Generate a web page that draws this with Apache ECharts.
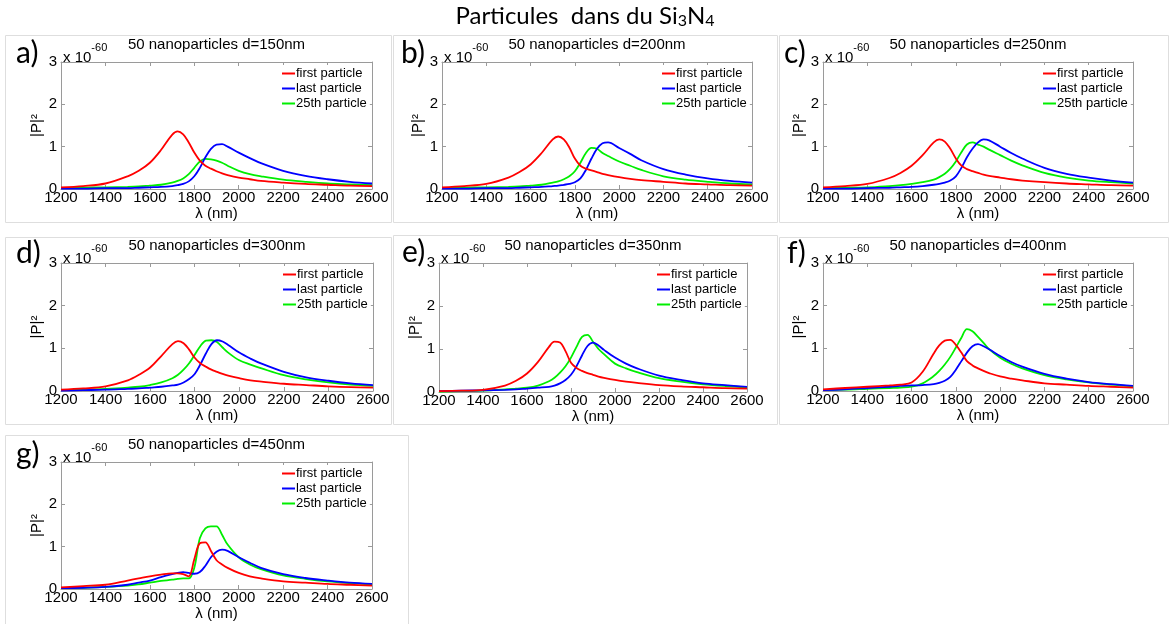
<!DOCTYPE html>
<html>
<head>
<meta charset="utf-8">
<script src="https://cdn.jsdelivr.net/npm/echarts@6/dist/echarts.min.js"></script>
<style>
html,body{margin:0;padding:0;background:#fff;}
#main{width:1171px;height:624px;}
</style>
</head>
<body>
<div id="main"></div>
<script>
// ---------------- DATA ----------------
const WL = [1200,1300,1400,1500,1550,1600,1650,1700,1725,1750,1775,1800,1825,1850,1875,1900,1925,1950,2000,2050,2100,2200,2300,2400,2500,2600];
const X_TICKS = [1200,1400,1600,1800,2000,2200,2400,2600];
const Y_TICKS = [0,1,2,3];
const SERIES_NAMES = ['first particle','last particle','25th particle'];
const DIAMETERS = [150,200,250,300,350,400,450];
const LETTERS = ['a)','b)','c)','d)','e)','f)','g)'];

// panel a (d=150nm)
const firstA = [0.04,0.07,0.13,0.30,0.43,0.62,0.92,1.28,1.36,1.29,1.10,0.86,0.67,0.55,0.48,0.42,0.37,0.33,0.27,0.23,0.19,0.15,0.12,0.10,0.08,0.07];
const lastA  = [0.01,0.01,0.02,0.02,0.03,0.04,0.05,0.07,0.09,0.12,0.18,0.30,0.50,0.75,0.95,1.05,1.06,1.00,0.86,0.73,0.61,0.43,0.31,0.23,0.17,0.13];
const p25A   = [0.02,0.03,0.04,0.05,0.06,0.08,0.10,0.15,0.19,0.25,0.35,0.50,0.65,0.71,0.70,0.67,0.62,0.55,0.43,0.35,0.30,0.22,0.17,0.13,0.11,0.09];
// panel b (d=200nm)
const firstB = [0.04,0.07,0.12,0.27,0.40,0.58,0.85,1.17,1.24,1.17,0.98,0.72,0.55,0.48,0.44,0.40,0.36,0.33,0.28,0.24,0.21,0.17,0.13,0.11,0.09,0.08];
const lastB  = [0.01,0.01,0.02,0.02,0.03,0.04,0.05,0.07,0.08,0.10,0.12,0.16,0.25,0.45,0.72,0.95,1.08,1.10,0.97,0.83,0.68,0.47,0.34,0.25,0.19,0.15];
const p25B   = [0.02,0.03,0.04,0.05,0.06,0.08,0.10,0.15,0.18,0.23,0.30,0.42,0.62,0.85,0.97,0.95,0.85,0.78,0.65,0.55,0.45,0.30,0.22,0.17,0.13,0.11];
// panel c (d=250nm)
const firstC = [0.04,0.07,0.12,0.26,0.38,0.55,0.80,1.10,1.17,1.12,0.95,0.72,0.55,0.47,0.42,0.38,0.34,0.31,0.27,0.23,0.20,0.16,0.13,0.11,0.09,0.08];
const lastC  = [0.01,0.01,0.02,0.03,0.04,0.05,0.07,0.10,0.12,0.15,0.20,0.30,0.50,0.75,0.95,1.10,1.17,1.15,1.00,0.85,0.72,0.50,0.36,0.27,0.20,0.15];
const p25C   = [0.02,0.03,0.04,0.07,0.09,0.12,0.16,0.22,0.28,0.36,0.48,0.65,0.87,1.05,1.10,1.05,1.00,0.93,0.80,0.67,0.56,0.38,0.27,0.20,0.16,0.13];
// panel d (d=300nm)
const firstD = [0.03,0.06,0.11,0.25,0.38,0.55,0.82,1.10,1.17,1.12,0.97,0.78,0.65,0.57,0.50,0.45,0.40,0.36,0.30,0.25,0.22,0.17,0.14,0.11,0.09,0.08];
const lastD  = [0.01,0.02,0.03,0.05,0.06,0.08,0.10,0.13,0.15,0.20,0.28,0.40,0.62,0.88,1.10,1.19,1.16,1.08,0.90,0.76,0.64,0.45,0.32,0.24,0.18,0.14];
const p25D   = [0.02,0.03,0.05,0.08,0.10,0.14,0.20,0.30,0.38,0.50,0.65,0.85,1.05,1.18,1.19,1.15,1.02,0.90,0.72,0.62,0.53,0.37,0.27,0.20,0.15,0.12];
// panel e (d=350nm)
const firstE = [0.02,0.03,0.05,0.15,0.26,0.43,0.70,1.05,1.17,1.15,0.95,0.68,0.56,0.49,0.44,0.40,0.36,0.33,0.28,0.24,0.21,0.16,0.13,0.11,0.09,0.08];
const lastE  = [0.02,0.03,0.04,0.05,0.06,0.08,0.10,0.12,0.15,0.20,0.28,0.40,0.60,0.85,1.07,1.15,1.08,0.98,0.80,0.66,0.55,0.38,0.28,0.20,0.16,0.12];
const p25E   = [0.01,0.02,0.03,0.06,0.08,0.10,0.15,0.25,0.33,0.45,0.60,0.80,1.05,1.28,1.33,1.17,1.00,0.88,0.66,0.55,0.46,0.32,0.24,0.18,0.14,0.11];
// panel f (d=400nm)
const firstF = [0.04,0.07,0.10,0.13,0.15,0.20,0.45,0.88,1.07,1.18,1.20,1.08,0.90,0.70,0.60,0.53,0.47,0.42,0.34,0.29,0.25,0.18,0.15,0.12,0.10,0.08];
const lastF  = [0.02,0.04,0.07,0.10,0.12,0.13,0.14,0.16,0.19,0.24,0.33,0.50,0.70,0.90,1.05,1.10,1.05,0.98,0.82,0.68,0.57,0.40,0.29,0.21,0.16,0.12];
const p25F   = [0.02,0.03,0.05,0.07,0.08,0.10,0.18,0.35,0.47,0.62,0.80,1.02,1.25,1.45,1.40,1.27,1.13,0.98,0.78,0.64,0.53,0.37,0.27,0.20,0.15,0.11];
// panel g (d=450nm)
const firstG = [0.04,0.07,0.10,0.20,0.25,0.30,0.34,0.37,0.37,0.35,0.30,0.70,1.08,1.10,0.90,0.68,0.58,0.50,0.38,0.30,0.25,0.18,0.15,0.12,0.10,0.08];
const lastG  = [0.02,0.03,0.05,0.10,0.15,0.20,0.28,0.35,0.38,0.40,0.38,0.36,0.40,0.55,0.75,0.88,0.93,0.90,0.75,0.62,0.50,0.35,0.26,0.20,0.15,0.12];
const p25G   = [0.02,0.03,0.05,0.08,0.11,0.15,0.19,0.22,0.24,0.25,0.25,0.50,1.20,1.43,1.48,1.48,1.28,1.05,0.75,0.58,0.47,0.32,0.24,0.18,0.14,0.11];

const PANEL_DATA = [
  [firstA,lastA,p25A],[firstB,lastB,p25B],[firstC,lastC,p25C],
  [firstD,lastD,p25D],[firstE,lastE,p25E],[firstF,lastF,p25F],
  [firstG,lastG,p25G]
];

// ---------------- LAYOUT / STYLE ----------------
const COLORS = ['#ff0000','#0000ff','#00ee00'];
const LAYOUT = [
  {l:61,  t:62,  w:311, h:127, lx:16,  ly:53,  fr:[5,35,386,187]},
  {l:442, t:62,  w:310, h:127, lx:401, ly:53,  fr:[393,35,384,187]},
  {l:823, t:62,  w:310, h:127, lx:784, ly:53,  fr:[779,35,389,187]},
  {l:61,  t:263, w:312, h:128, lx:16,  ly:253, fr:[5,237,386,187]},
  {l:439, t:263, w:308, h:129, lx:402, ly:252, fr:[393,235,384,189]},
  {l:823, t:263, w:310, h:128, lx:787, ly:253, fr:[779,237,389,187]},
  {l:61,  t:462, w:311, h:127, lx:16,  ly:454, fr:[5,435,403,189]}
];
const FONT = 'Liberation Sans, Arial, sans-serif';
const AXC = '#9a9a9a';

const grids = [], xAxes = [], yAxes = [], series = [], legends = [], graphics = [];

LAYOUT.forEach((L, i) => {
  grids.push({left:L.l, top:L.t, width:L.w, height:L.h, containLabel:false});
  const tickCommon = {show:true, inside:true, length:4, lineStyle:{color:AXC, width:1}};
  xAxes.push({
    type:'value', gridIndex:i, position:'bottom', min:X_TICKS[0], max:X_TICKS[X_TICKS.length-1],
    interval:X_TICKS[1]-X_TICKS[0],
    axisLine:{show:true, onZero:false, lineStyle:{color:AXC, width:1}},
    axisTick:tickCommon, splitLine:{show:false},
    axisLabel:{color:'#000', fontSize:15, fontFamily:FONT, margin:1, formatter:(v) => String(v)},
    name:'λ (nm)', nameLocation:'middle', nameGap:17,
    nameTextStyle:{color:'#000', fontSize:15, fontFamily:FONT}
  });
  xAxes.push({
    type:'value', gridIndex:i, position:'top', min:X_TICKS[0], max:X_TICKS[X_TICKS.length-1],
    interval:X_TICKS[1]-X_TICKS[0],
    axisLine:{show:true, onZero:false, lineStyle:{color:AXC, width:1}},
    axisTick:tickCommon, axisLabel:{show:false}, splitLine:{show:false}
  });
  yAxes.push({
    type:'value', gridIndex:i, position:'left', min:Y_TICKS[0], max:Y_TICKS[Y_TICKS.length-1],
    interval:Y_TICKS[1]-Y_TICKS[0],
    axisLine:{show:true, onZero:false, lineStyle:{color:AXC, width:1}},
    axisTick:tickCommon, splitLine:{show:false},
    axisLabel:{color:'#000', fontSize:15, fontFamily:FONT, margin:4},
    name:'|P|²', nameLocation:'middle', nameGap:10, nameRotate:90,
    nameTextStyle:{color:'#000', fontSize:15, fontFamily:FONT}
  });
  yAxes.push({
    type:'value', gridIndex:i, position:'right', min:Y_TICKS[0], max:Y_TICKS[Y_TICKS.length-1],
    interval:Y_TICKS[1]-Y_TICKS[0],
    axisLine:{show:true, onZero:false, lineStyle:{color:AXC, width:1}},
    axisTick:tickCommon, axisLabel:{show:false}, splitLine:{show:false}
  });
  PANEL_DATA[i].forEach((arr, k) => {
    series.push({
      type:'line', name:SERIES_NAMES[k], xAxisIndex:2*i, yAxisIndex:2*i,
      data: WL.map((x, j) => [x, arr[j]]),
      showSymbol:false, smooth:0.35,
      lineStyle:{color:COLORS[k], width:1.8}, itemStyle:{color:COLORS[k]},
      z: k===0 ? 4 : (k===1 ? 3 : 2)
    });
  });
  legends.push({
    orient:'vertical', left:L.l + L.w - 91, top:L.t + 3,
    data:SERIES_NAMES, icon:'rect', itemWidth:13, itemHeight:2, itemGap:0,
    selectedMode:false, backgroundColor:'#fff', padding:[1,3,1,1],
    textStyle:{color:'#000', fontSize:13, fontFamily:FONT, lineHeight:15, padding:[0,0,0,-4]}
  });
  // panel frame
  graphics.push({type:'rect', shape:{x:L.fr[0]+0.5, y:L.fr[1]+0.5, width:L.fr[2], height:L.fr[3]},
    style:{fill:'none', stroke:'#dedede', lineWidth:1}, z:-1});
  // panel letter
  graphics.push({type:'text', x:L.lx, y:L.ly,
    style:{text:LETTERS[i], font:'30px Lato, "Open Sans", sans-serif', fill:'#000', verticalAlign:'middle'}});
  // title
  graphics.push({type:'text', x:L.l + L.w/2, y:L.t - 17,
    style:{text:'50 nanoparticles d=' + DIAMETERS[i] + 'nm', font:'15px ' + FONT, fill:'#000',
      align:'center', verticalAlign:'middle'}});
  // exponent
  graphics.push({type:'text', x:L.l + 2, y:L.t - 8,
    style:{text:'{b|x 10}{s|-60}', verticalAlign:'middle',
      rich:{b:{fontSize:15, fontFamily:FONT, color:'#000', verticalAlign:'bottom'},
            s:{fontSize:11, fontFamily:FONT, color:'#000', padding:[0,0,12,0]}}}});
});

// main title
graphics.push({type:'text', x:585, y:16,
  style:{text:'{m|Particules  dans du Si}{sub|3}{m|N}{sub|4}', align:'center', verticalAlign:'middle',
    rich:{m:{fontSize:24, fontFamily:'Lato, "Open Sans", sans-serif', color:'#000'},
          sub:{fontSize:16, fontFamily:'Lato, "Open Sans", sans-serif', color:'#000', padding:[10,0,0,0]}}}});

const chart = echarts.init(document.getElementById('main'), null, {renderer:'canvas'});
chart.setOption({
  animation:false,
  backgroundColor:'#fff',
  grid:grids, xAxis:xAxes, yAxis:yAxes, series:series, legend:legends, graphic:graphics
});
</script>
</body>
</html>
